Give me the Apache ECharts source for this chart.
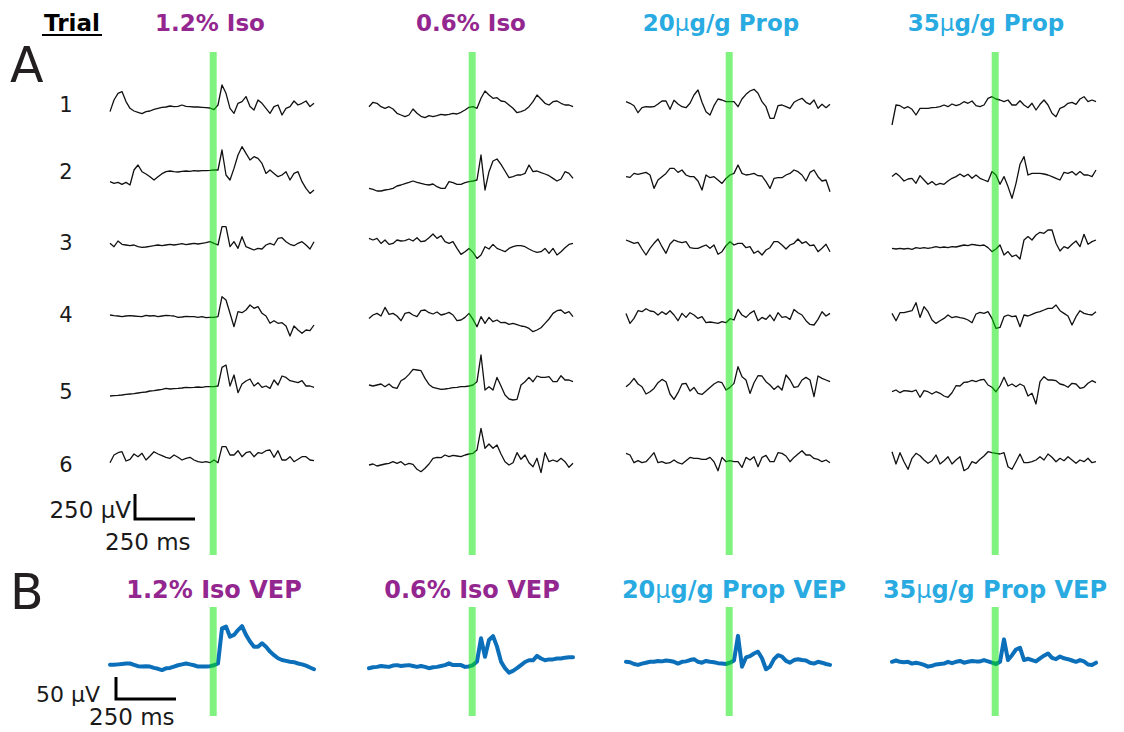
<!DOCTYPE html>
<html>
<head>
<meta charset="utf-8">
<script src="https://cdn.jsdelivr.net/npm/echarts@6/dist/echarts.min.js"></script>
<style>
  html, body { margin: 0; padding: 0; background: #fff; }
  #chart { width: 1124px; height: 732px; }
</style>
</head>
<body>
<div id="chart"></div>
<script>
// ---- sampling grid shared by every sweep (ms); stimulus onset at 0 ----
const SAMPLE_START_MS = -430;
const SAMPLE_STEP_MS = 1000 / 60;
const STIM_MS = 0;

const conditionNames = ['1.2% Iso', '0.6% Iso', '20μg/g Prop', '35μg/g Prop'];
const trialLabels = ['1', '2', '3', '4', '5', '6'];

// ---- single-trial sweeps (μV), six trials per condition ----
const iso12Trials = [
  [-33,83,150,167,67,0,-27,-40,-53,-33,-27,-10,0,10,13,23,17,20,33,20,17,13,13,10,7,3,-13,33,233,150,0,-50,50,67,117,17,-17,83,50,0,-50,17,33,-67,0,17,73,33,50,73,17,50],
  [-100,-117,-107,-127,-107,-133,17,67,0,-23,-50,-83,-50,-20,0,7,0,-3,3,7,3,10,7,10,10,13,17,17,217,-33,-83,33,167,250,183,117,150,133,83,-17,17,-17,-50,-33,0,-83,-17,0,-100,-167,-217,-183],
  [17,-17,40,7,0,-7,0,-17,-23,-20,-13,-7,0,-7,0,7,0,7,13,3,10,17,10,17,23,33,17,0,183,183,-17,33,-33,83,-17,-33,-50,-33,-40,0,17,0,67,73,33,7,-7,17,33,0,-40,33],
  [10,3,0,-7,0,3,0,-3,-7,7,0,3,-7,0,7,3,0,-13,-10,-3,-7,-7,-13,-7,-17,-13,-13,-7,193,160,27,-107,43,33,60,110,77,93,27,0,-73,-47,-73,-67,-100,-200,-100,-140,-173,-140,-147,-90],
  [-93,-90,-87,-83,-77,-73,-70,-63,-57,-53,-43,-40,-33,-27,-17,-23,-20,-17,-13,-7,-10,-7,-3,-7,0,0,0,7,193,217,7,117,-60,27,57,77,7,40,-7,7,-17,67,17,107,93,60,50,40,60,7,7,-7],
  [-27,50,73,83,-10,7,60,33,67,0,40,83,60,43,27,17,50,27,0,17,27,0,-17,-23,-17,-27,0,-27,133,133,50,50,93,33,73,83,33,73,67,93,100,27,93,0,0,33,-17,7,33,33,0,-7]
];
const iso06Trials = [
  [33,77,67,33,17,33,10,-33,-50,-67,-50,10,-33,-63,-77,-57,-67,-57,-43,-50,-43,-33,-40,-23,0,27,33,17,117,190,150,117,123,90,83,50,17,-27,-17,0,33,83,150,110,67,50,83,90,67,50,50,33],
  [-67,-77,-93,-93,-83,-77,-67,-43,-33,-20,-7,7,-7,-17,-27,-33,-23,-50,-67,-67,0,-10,-27,-27,-10,0,7,17,267,-83,100,207,227,173,107,40,50,67,67,83,167,100,107,90,77,60,33,7,27,100,83,33],
  [33,17,33,-17,17,-27,-17,17,7,10,27,7,40,0,7,40,77,33,60,0,-17,0,-67,-127,-100,-67,-107,-167,-133,-50,-73,-27,-67,-83,-100,-67,-50,-40,-40,-50,-73,-93,-107,-100,-67,-117,-67,-133,-100,-60,-27,-17],
  [-17,17,33,7,93,23,33,7,-40,33,43,17,0,60,67,40,27,47,17,27,43,17,-40,-33,-7,33,-27,-100,0,-67,-7,-50,-33,-60,-57,-77,-67,-80,-93,-100,-117,-150,-133,-110,-67,-23,33,60,67,33,50,0],
  [17,7,17,27,0,27,-7,-17,60,83,123,173,167,160,83,23,-7,-17,-27,-23,-17,-10,-7,0,0,7,17,50,317,-33,0,-33,93,7,-83,-123,-133,-127,17,50,93,50,107,93,93,100,50,50,110,67,67,50],
  [-100,-90,-110,-100,-90,-83,-67,-83,-67,-100,-83,-93,-143,-167,-133,-90,-33,-23,-27,0,-17,-3,-10,-17,0,10,17,50,267,67,110,67,100,10,-67,-100,-77,23,-43,0,-77,-117,-33,-177,23,-67,-50,-67,-33,-67,-123,-83]
];
const prop20Trials = [
  [33,17,-7,-77,-27,-17,-20,-17,10,40,40,-43,47,10,-17,-27,17,100,150,27,-67,-100,-7,60,50,33,33,33,-17,60,107,140,157,117,33,-17,-133,-133,-7,0,-17,-33,27,50,67,27,7,50,-33,7,-27,7],
  [0,-7,33,23,33,43,17,-117,-33,0,33,83,83,43,67,17,0,0,-43,-133,17,-10,0,-33,-67,-17,17,33,117,33,17,23,33,10,7,-50,-117,-17,-10,-10,17,33,67,50,17,-43,43,67,0,-43,-33,-150],
  [50,33,17,27,-40,-100,-33,17,60,-17,-83,10,50,33,23,33,-27,-33,-33,-17,0,-33,0,-93,-67,-7,33,0,17,17,-27,-17,-83,-60,-100,-50,-27,33,33,0,-40,0,17,60,17,33,-7,0,-67,-33,7,-67],
  [33,-67,-17,60,50,80,57,50,17,50,23,60,17,-40,33,-7,40,17,-17,0,-60,-53,-60,-67,-50,-60,-20,-33,73,17,-7,33,60,-40,-7,-27,17,-40,40,-7,0,-27,73,40,17,-40,-77,-83,-27,50,7,33],
  [0,33,83,27,0,-73,-50,-17,40,73,50,-73,-127,-60,27,33,-43,-7,-67,-77,-43,-7,27,50,40,-33,-7,33,200,100,67,-67,40,110,107,50,17,-27,7,-33,117,67,-7,0,67,93,67,-100,107,83,67,50],
  [83,67,-10,10,-10,0,43,90,-10,0,-17,-10,17,-10,-23,10,43,33,33,23,23,43,0,-90,43,0,10,0,0,-57,43,17,50,-50,43,63,0,0,90,83,57,0,43,77,110,67,67,33,23,0,17,-10]
];
const prop35Trials = [
  [-200,0,-7,-33,-17,-43,-100,-33,-33,-33,-27,-23,-17,0,-17,10,-7,7,33,17,40,-7,-17,0,67,83,60,50,33,50,0,0,43,0,-27,17,-50,7,50,0,-83,-117,-33,-17,17,27,7,60,83,33,50,33],
  [17,50,17,-27,-7,0,-50,27,-17,-60,-33,-67,-50,-60,-27,0,17,43,17,40,0,33,0,-17,-33,67,33,-60,17,-83,-200,-50,140,217,33,50,50,50,43,33,17,0,-17,60,50,67,33,67,33,33,17,83],
  [0,-7,0,-7,0,-10,7,0,7,0,7,17,7,13,7,17,13,23,33,27,40,33,27,33,7,-33,-7,33,-67,-33,-83,-67,-107,83,117,83,133,160,150,183,183,50,-27,17,0,40,73,17,140,40,67,83],
  [33,-40,40,40,50,60,140,-7,100,50,-33,-67,-40,-17,17,-10,0,-10,-17,-33,-60,27,43,33,50,-17,-117,-107,0,17,0,7,-100,17,7,23,40,50,67,83,83,117,60,33,7,-83,0,60,33,23,17,50],
  [-17,0,-27,-7,-10,-17,0,-73,-7,-17,-40,-17,-33,-60,-73,-27,43,40,77,80,97,83,100,107,50,27,-17,40,127,40,60,33,60,40,-60,-33,-140,83,133,100,100,93,60,50,27,67,60,17,27,67,93,73],
  [83,-40,73,-17,-93,17,67,43,0,-33,-7,50,-40,-7,33,-40,0,33,-107,-83,-17,-33,7,40,83,73,67,60,73,-67,-93,-17,60,-27,-27,-17,0,33,0,60,27,-17,17,-7,33,0,-33,0,-17,17,-27,-17]
];

// ---- trial-averaged visual evoked potentials (μV) ----
const vepIso12  = [2,2,3,4,5,5,2,-1,-2,-1,-2,-5,-7,-10,-6,-5,-2,1,3,5,3,1,-2,-2,-2,-1,1,5,85,89,66,70,81,90,70,55,43,43,51,43,32,24,17,13,11,9,8,5,3,0,-4,-8];
const vepIso06  = [-5,-3,-2,0,-1,-2,1,2,0,1,2,0,-2,0,-2,-5,-3,-2,0,2,6,2,2,2,-2,-1,2,10,63,21,59,68,44,10,-5,-15,-11,-5,2,9,13,13,23,17,13,15,15,17,17,19,20,20];
const vepProp20 = [2,1,-3,-5,-2,0,2,2,4,3,5,4,2,-2,2,3,6,8,2,0,4,2,1,-1,-2,-3,0,5,61,-9,12,15,21,25,10,-15,-9,8,17,14,4,0,6,8,6,5,0,-2,2,0,-3,-5];
const vepProp35 = [2,5,2,1,2,-2,0,-2,-5,-9,-7,-4,-3,-2,2,-1,2,4,0,2,4,3,3,6,3,0,-3,2,53,6,17,30,34,6,9,6,3,10,16,21,11,8,14,10,8,5,2,6,3,-4,-5,0];

// ---- calibration bars: [amplitude μV, duration ms] ----
const trialScaleBar = [250, 250];
const vepScaleBar = [50, 250];

// ================= layout =================
const PURPLE = '#93278F';
const CYAN = '#29ABE2';
const conditionColors = [PURPLE, PURPLE, CYAN, CYAN];
const FONT = '"DejaVu Sans", sans-serif';

const PX_PER_MS = 0.24;
const PX_PER_UV_TRIAL = 0.1;
const PX_PER_UV_VEP = 0.44;
const TRIAL_HALF_RANGE = 400;
const VEP_HALF_RANGE = 100;

const COL_LEFT = [110, 369, 626, 892];
const TRIAL_ROW_Y = [
  [108.3, 171.7, 245, 316, 386.7, 460],
  [110, 181.7, 241.7, 316.7, 386.7, 455],
  [105, 176.7, 245, 316.7, 386.7, 461.7],
  [105, 178.3, 248.3, 316.7, 390, 460]
];
const VEP_ROW_Y = [665.7, 666, 662.7, 662.7];
const TITLE_X = [210, 471, 721, 986];
const VEP_TITLE_X = [214, 472, 734, 995];
const LABEL_Y = [104.5, 172, 243, 315, 392, 465];

const conditionTrials = [iso12Trials, iso06Trials, prop20Trials, prop35Trials];
const conditionVeps = [vepIso12, vepIso06, vepProp20, vepProp35];

const grids = [], xAxes = [], yAxes = [], series = [];

function addPanel(box, xRange, yRange, data, lineStyle, z) {
  const idx = grids.length;
  grids.push({ left: box.left, top: box.top, width: box.width, height: box.height,
               show: false, containLabel: false, outerBoundsMode: 'none' });
  xAxes.push({ type: 'value', gridIndex: idx, min: xRange[0], max: xRange[1], show: false });
  yAxes.push({ type: 'value', gridIndex: idx, min: yRange[0], max: yRange[1], show: false });
  series.push({ type: 'line', xAxisIndex: idx, yAxisIndex: idx, data: data,
                showSymbol: false, symbol: 'none', silent: true, animation: false,
                clip: false, z: z, lineStyle: lineStyle });
}

function sweepPoints(values) {
  return values.map((v, i) => [SAMPLE_START_MS + i * SAMPLE_STEP_MS, v]);
}

function sweepRange(values) {
  return [SAMPLE_START_MS, SAMPLE_START_MS + (values.length - 1) * SAMPLE_STEP_MS];
}

function boxFor(left, centerY, xRange, halfRange, pxPerUv) {
  return {
    left: left,
    top: centerY - halfRange * pxPerUv,
    width: (xRange[1] - xRange[0]) * PX_PER_MS,
    height: 2 * halfRange * pxPerUv
  };
}

const rawStyle = { color: '#111', width: 1.3, join: 'round' };
const vepStyle = { color: '#0B6FBA', width: 4, join: 'round', cap: 'round' };
const stimStyle = { color: 'rgba(0, 230, 0, 0.5)', width: 7, cap: 'butt' };

conditionTrials.forEach((trials, c) => {
  trials.forEach((values, r) => {
    const xr = sweepRange(values);
    addPanel(boxFor(COL_LEFT[c], TRIAL_ROW_Y[c][r], xr, TRIAL_HALF_RANGE, PX_PER_UV_TRIAL),
             xr, [-TRIAL_HALF_RANGE, TRIAL_HALF_RANGE], sweepPoints(values), rawStyle, 3);
  });
  const vep = conditionVeps[c];
  const xv = sweepRange(vep);
  addPanel(boxFor(COL_LEFT[c], VEP_ROW_Y[c], xv, VEP_HALF_RANGE, PX_PER_UV_VEP),
           xv, [-VEP_HALF_RANGE, VEP_HALF_RANGE], sweepPoints(vep), vepStyle, 3);

  // stimulus onset markers spanning each section
  const w = (xr => (xr[1] - xr[0]) * PX_PER_MS)(xv);
  addPanel({ left: COL_LEFT[c], top: 52, width: w, height: 503 }, xv, [0, 1],
           [[STIM_MS, 0], [STIM_MS, 1]], stimStyle, 6);
  addPanel({ left: COL_LEFT[c], top: 607, width: w, height: 109 }, xv, [0, 1],
           [[STIM_MS, 0], [STIM_MS, 1]], stimStyle, 6);
});

// calibration bars drawn on their own μV / ms scales
function addScaleBar(bar, left, bottom, pxPerUv) {
  const [uv, ms] = bar;
  addPanel({ left: left, top: bottom - uv * pxPerUv, width: ms * PX_PER_MS, height: uv * pxPerUv },
           [0, ms], [0, uv], [[0, uv], [0, 0], [ms, 0]],
           { color: '#000', width: 3, join: 'miter', cap: 'butt' }, 4);
}
addScaleBar(trialScaleBar, 135, 519, PX_PER_UV_TRIAL);
addScaleBar(vepScaleBar, 116, 699, PX_PER_UV_VEP);

// ================= text =================
function text(str, x, y, size, opts) {
  opts = opts || {};
  return {
    type: 'text', x: x, y: y, silent: true, z: 10,
    style: {
      text: str, fill: opts.fill || '#1a1a1a',
      fontSize: size, fontFamily: FONT, fontWeight: opts.weight || 'normal',
      align: opts.align || 'center', textAlign: opts.align || 'center',
      verticalAlign: 'middle', textVerticalAlign: 'middle',
      rich: opts.rich
    }
  };
}
function muRich(size, color) {
  return { mu: { fontSize: size, fontFamily: FONT, fontWeight: 'normal', fill: color } };
}
function richName(name) {
  return name.replace('μ', '{mu|μ}');
}

const graphics = [];
graphics.push(text('Trial', 72, 23, 23, { weight: 'bold', fill: '#000' }));
graphics.push({ type: 'line', silent: true, z: 10,
  shape: { x1: 42, y1: 35, x2: 102, y2: 35 }, style: { stroke: '#000', lineWidth: 2 } });
graphics.push(text('A', 10, 65, 49, { align: 'left', fill: '#231F20' }));
graphics.push(text('B', 10, 592, 49, { align: 'left', fill: '#231F20' }));

conditionNames.forEach((name, c) => {
  const col = conditionColors[c];
  graphics.push(text(richName(name), TITLE_X[c], 23, 23,
    { weight: 'bold', fill: col, rich: muRich(23, col) }));
  graphics.push(text(richName(name + ' VEP'), VEP_TITLE_X[c], 590, 24,
    { weight: 'bold', fill: col, rich: muRich(24, col) }));
});

trialLabels.forEach((lab, r) => {
  graphics.push(text(lab, 66, LABEL_Y[r], 21));
});

graphics.push(text(trialScaleBar[0] + ' μV', 131, 509.5, 23, { align: 'right' }));
graphics.push(text(trialScaleBar[1] + ' ms', 105, 541.5, 23, { align: 'left' }));
graphics.push(text(vepScaleBar[0] + ' μV', 100, 694.5, 22, { align: 'right' }));
graphics.push(text(vepScaleBar[1] + ' ms', 89, 717, 23, { align: 'left' }));

const chart = echarts.init(document.getElementById('chart'), null,
  { renderer: 'svg', width: 1124, height: 732 });
chart.setOption({
  backgroundColor: '#ffffff',
  animation: false,
  grid: grids,
  xAxis: xAxes,
  yAxis: yAxes,
  series: series,
  graphic: graphics
});
</script>
</body>
</html>
